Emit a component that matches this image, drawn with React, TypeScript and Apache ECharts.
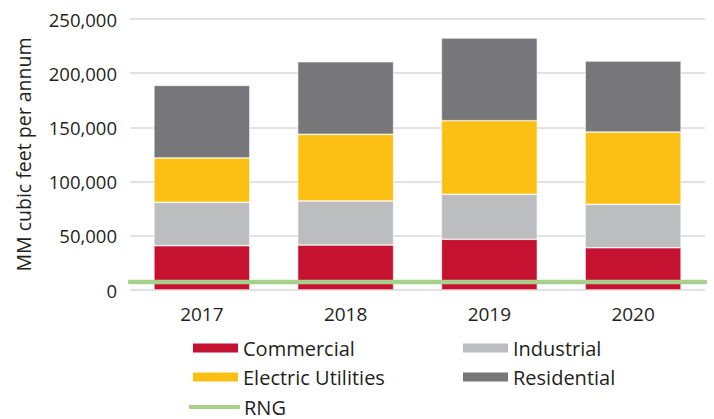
import React, { useEffect, useRef } from "react";
import * as echarts from "echarts";

const years = ["2017", "2018", "2019", "2020"];
const commercial = [40900, 41500, 46800, 39000];
const industrial = [40000, 40600, 41500, 40000];
const electricUtilities = [40900, 61500, 67900, 66700];
const residential = [67000, 67000, 76300, 65500];
const rng = [7400, 7400, 7400, 7400];
const yTicks = { min: 0, max: 250000, interval: 50000 };

const FONT = "'Open Sans', sans-serif";
const colors = {
  Commercial: "#C41230",
  Industrial: "#BCBDBF",
  "Electric Utilities": "#FBC013",
  Residential: "#777678",
  RNG: "#A8D08D",
};

export default function App() {
  const ref = useRef<HTMLDivElement>(null);
  useEffect(() => {
    if (!ref.current) return;
    const chart = echarts.init(ref.current, undefined, { renderer: "svg" });
    const barSeries = (name: string, data: number[]) => ({
      name,
      type: "bar",
      stack: "total",
      data,
      barWidth: 96,
      itemStyle: { color: (colors as any)[name], borderColor: "#ffffff", borderWidth: 0.6 },
    });
    const legendItem = (name: string, left: number, top: number, line = false) => ({
      data: [name],
      left,
      top,
      orient: "horizontal",
      icon: line ? "roundRect" : "rect",
      itemWidth: line ? 51 : 47,
      itemHeight: line ? 4 : 11,
      itemGap: 0,
      padding: 0,
      textStyle: { fontFamily: FONT, fontSize: 20, color: "#231F20", padding: [0, 0, 0, -1] },
      selectedMode: false,
    });
    chart.setOption({
      animation: false,
      grid: { left: 130, right: 9, top: 19, bottom: 129 },
      xAxis: [
        {
          type: "category",
          data: years,
          axisLine: { show: false },
          axisTick: { show: false },
          axisLabel: { fontFamily: FONT, fontSize: 19, color: "#231F20", margin: 14 },
        },
        {
          type: "category",
          data: years,
          boundaryGap: false,
          show: false,
        },
      ],
      yAxis: {
        type: "value",
        min: yTicks.min,
        max: yTicks.max,
        interval: yTicks.interval,
        name: "MM cubic feet per annum",
        nameLocation: "middle",
        nameGap: 97,
        nameTextStyle: { fontFamily: FONT, fontSize: 19.5, color: "#231F20" },
        axisLine: { show: false },
        axisTick: { show: false },
        splitLine: { lineStyle: { color: "#D9D9D9", width: 1.5 } },
        axisLabel: {
          fontFamily: FONT,
          fontSize: 18.5,
          color: "#231F20",
          margin: 13,
          formatter: (v: number) => v.toLocaleString("en-US"),
        },
      },
      legend: [
        legendItem("Commercial", 191, 338),
        legendItem("Industrial", 461, 338),
        legendItem("Electric Utilities", 191, 367),
        legendItem("Residential", 461, 367),
        legendItem("RNG", 189, 397, true),
      ],
      series: [
        barSeries("Commercial", commercial),
        barSeries("Industrial", industrial),
        barSeries("Electric Utilities", electricUtilities),
        barSeries("Residential", residential),
        {
          name: "RNG",
          type: "line",
          xAxisIndex: 1,
          data: rng,
          symbol: "none",
          lineStyle: { color: colors.RNG, width: 4.5, cap: "round" },
          itemStyle: { color: colors.RNG },
          z: 5,
        },
      ],
    });
    return () => chart.dispose();
  }, []);
  return (
    <div
      ref={ref}
      style={{ position: "absolute", left: 0, top: 0, width: 714, height: 419 }}
    />
  );
}
